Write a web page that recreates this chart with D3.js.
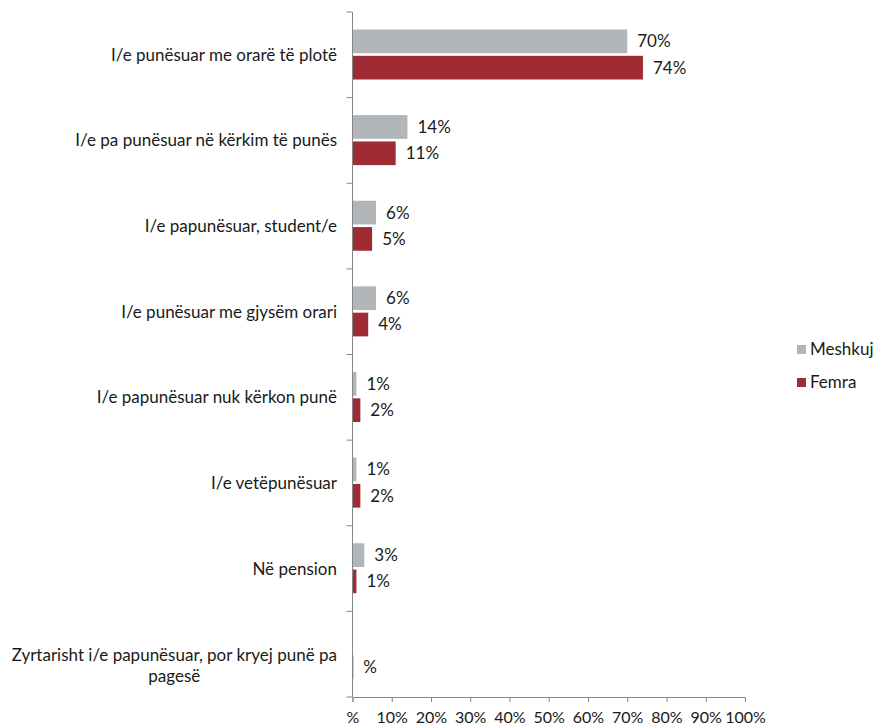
<!DOCTYPE html>
<html>
<head>
<meta charset="utf-8">
<script src="https://cdn.jsdelivr.net/npm/d3@7"></script>
<style>
  html, body { margin: 0; padding: 0; background: #fff; }
  svg { display: block; font-family: Lato, "Open Sans", sans-serif; }
</style>
</head>
<body>
<svg id="chart" width="875" height="727"></svg>
<script>
// Employment status by gender (percent)
const categories = [
  "I/e punësuar me orarë të plotë",
  "I/e pa punësuar në kërkim të punës",
  "I/e papunësuar, student/e",
  "I/e punësuar me gjysëm orari",
  "I/e papunësuar nuk kërkon punë",
  "I/e vetëpunësuar",
  "Në pension",
  "Zyrtarisht i/e papunësuar, por kryej punë pa pagesë"
];
const seriesNames = ["Meshkuj", "Femra"];
const meshkuj = [70, 14, 6, 6, 1, 1, 3, 0];
const femra   = [74, 11, 5, 4, 2, 2, 1, 0.2];
const meshkujLabels = ["70%", "14%", "6%", "6%", "1%", "1%", "3%", ""];
const femraLabels   = ["74%", "11%", "5%", "4%", "2%", "2%", "1%", "%"];
const xTicks = [0, 10, 20, 30, 40, 50, 60, 70, 80, 90, 100];
const xTickLabels = ["%", "10%", "20%", "30%", "40%", "50%", "60%", "70%", "80%", "90%", "100%"];
const colors = { Meshkuj: "#b2b6b9", Femra: "#9f2b34" };

const svg = d3.select("#chart");
const axisColor = "#868686";
const textColor = "#1a1a1a";
const fontSize = 17;

const x = d3.scaleLinear().domain([0, 100]).range([352.5, 745]);
const y0 = d3.scaleBand().domain(d3.range(categories.length)).range([12, 697]).padding(0);
const y1 = d3.scaleBand().domain(seriesNames).range([17.5, 67.5]).paddingInner(0.1);

const rows = categories.map((c, i) => ({
  name: c,
  values: [
    { series: "Meshkuj", value: meshkuj[i], label: meshkujLabels[i] },
    { series: "Femra", value: femra[i], label: femraLabels[i] }
  ]
}));

const groups = svg.append("g").selectAll("g")
  .data(rows).join("g")
  .attr("transform", (d, i) => `translate(0,${y0(i)})`);

groups.selectAll("rect")
  .data(d => d.values.filter(v => v.value > 0))
  .join("rect")
  .attr("x", x(0))
  .attr("y", v => y1(v.series))
  .attr("width", v => x(v.value) - x(0))
  .attr("height", y1.bandwidth())
  .attr("fill", v => colors[v.series]);

groups.selectAll("text.val")
  .data(d => d.values.filter(v => v.label))
  .join("text")
  .attr("class", "val")
  .attr("x", v => x(v.value) + 10)
  .attr("y", v => y1(v.series) + y1.bandwidth() / 2)
  .attr("dy", "0.35em")
  .attr("font-size", fontSize)
  .attr("fill", textColor)
  .text(v => v.label);

// Category labels, wrapped where too long and centred under the widest line
const labelRight = 337;
const maxWidth = 335;
groups.each(function(d) {
  const g = d3.select(this);
  const t = g.append("text")
    .attr("font-size", fontSize)
    .attr("fill", textColor);
  const words = d.name.split(" ");
  let lines = [];
  let line = [];
  const probe = t.append("tspan");
  for (const w of words) {
    line.push(w);
    probe.text(line.join(" "));
    if (probe.node().getComputedTextLength() > maxWidth && line.length > 1) {
      line.pop();
      lines.push(line.join(" "));
      line = [w];
    }
  }
  lines.push(line.join(" "));
  probe.remove();
  const lh = 21;
  const cy = y0.bandwidth() / 2;
  if (lines.length === 1) {
    t.attr("text-anchor", "end")
      .attr("x", labelRight)
      .attr("y", cy)
      .attr("dy", "0.35em")
      .text(lines[0]);
  } else {
    const tmp = t.append("tspan").text(lines[0]);
    const w0 = tmp.node().getComputedTextLength();
    tmp.remove();
    const cx = labelRight - w0 / 2;
    t.attr("text-anchor", "middle");
    lines.forEach((ln, k) => {
      t.append("tspan")
        .attr("x", cx)
        .attr("y", cy + 1 + k * lh)
        .attr("dy", "0.35em")
        .text(ln);
    });
  }
});

// Vertical category axis
const yAxis = svg.append("g");
yAxis.append("line")
  .attr("x1", x(0)).attr("x2", x(0))
  .attr("y1", y0.range()[0]).attr("y2", y0.range()[1])
  .attr("stroke", axisColor).attr("stroke-width", 1);
yAxis.selectAll("line.tick")
  .data(d3.range(categories.length + 1))
  .join("line")
  .attr("class", "tick")
  .attr("x1", x(0) - 6).attr("x2", x(0))
  .attr("y1", i => y0.range()[0] + i * y0.step())
  .attr("y2", i => y0.range()[0] + i * y0.step())
  .attr("stroke", axisColor);

// Horizontal value axis
const xAxis = d3.axisBottom(x)
  .tickValues(xTicks)
  .tickFormat((d, i) => xTickLabels[i])
  .tickSize(5)
  .tickPadding(10);
const xg = svg.append("g")
  .attr("transform", `translate(0,${y0.range()[1]})`)
  .call(xAxis);
xg.select(".domain").attr("stroke", axisColor);
xg.selectAll(".tick line").attr("stroke", axisColor);
xg.selectAll(".tick text")
  .attr("font-size", 16)
  .attr("font-family", "Lato, 'Open Sans', sans-serif")
  .attr("fill", textColor);

// Legend
const legend = svg.append("g").attr("transform", "translate(797,345)");
seriesNames.forEach((s, i) => {
  const row = legend.append("g").attr("transform", `translate(0,${i * 33})`);
  row.append("rect").attr("width", 9).attr("height", 9).attr("fill", colors[s]);
  row.append("text")
    .attr("x", 13).attr("y", 4.5).attr("dy", "0.35em")
    .attr("font-size", fontSize).attr("fill", textColor)
    .text(s);
});
</script>
</body>
</html>
